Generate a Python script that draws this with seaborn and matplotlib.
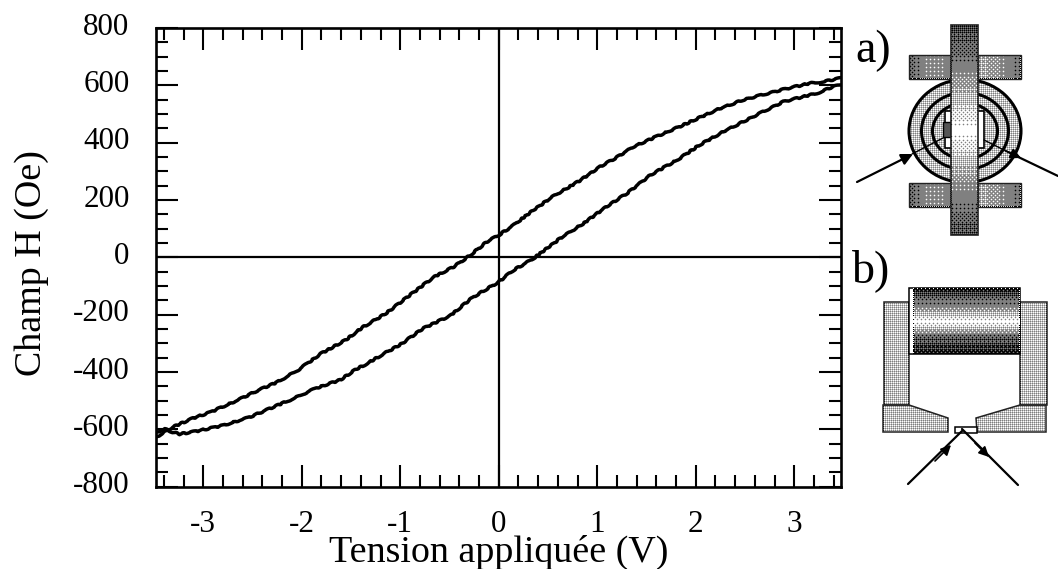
import numpy as np
import pandas as pd
import matplotlib
matplotlib.use("Agg")
import matplotlib.pyplot as plt
from matplotlib.patches import Rectangle, Ellipse, Polygon
from matplotlib.transforms import ScaledTranslation
import seaborn as sns

volts_up = [-3.48,-3.37,-3.3,-3.1,-2.93,-2.66,-2.46,-2.25,-2.03,-1.81,-1.56,-1.375,-1.15,-0.95,-0.66,-0.46,-0.29,-0.12,0.0,0.15,0.35,0.55,0.83,1.03,1.2,1.37,1.6,1.87,2.21,2.48,2.89,3.16,3.3,3.47]
field_up = [-628,-605,-591,-561,-541,-500,-467,-436,-392,-337,-290,-243,-197,-145,-69,-34,7,54,77,112,164,212,269,316,349,386,421,461,514,549,586,607,613,625]
volts_down = [-3.48,-3.39,-3.34,-3.24,-3.07,-2.8,-2.53,-2.29,-2.09,-1.85,-1.61,-1.44,-1.34,-1.17,-1.0,-0.77,-0.49,-0.26,0.0,0.15,0.35,0.62,0.86,1.08,1.31,1.54,1.81,2.04,2.28,2.62,2.89,3.23,3.4,3.48]
field_down = [-611,-599,-607,-617,-607,-587,-558,-523,-494,-456,-428,-389,-372,-337,-305,-249,-203,-139,-86,-45,-5,65,118,173,225,287,339,392,438,497,543,572,596,601]
x_ticks = [-3,-2,-1,0,1,2,3]
y_ticks = [-800,-600,-400,-200,0,200,400,600,800]

TEXT_FAMILY = "Liberation Serif"
sns.set_theme(style="ticks", rc={"font.family": TEXT_FAMILY, "axes.unicode_minus": False})
W, H = 1058, 569
fig = plt.figure(figsize=(W/100, H/100), dpi=100, facecolor="white")
ax = fig.add_axes([156/W, 1-486.5/H, (841-156)/W, (486.5-28)/H])

df = pd.concat([
    pd.DataFrame({"V": volts_up, "H": field_up, "b": "up"}),
    pd.DataFrame({"V": volts_down, "H": field_down, "b": "down"}),
])
sns.lineplot(data=df, x="V", y="H", units="b", estimator=None, sort=False, color="black", lw=2.5, ax=ax, legend=False, zorder=3)
for ln in ax.get_lines():
    ln.set_sketch_params(scale=0.7, length=14, randomness=4)
ax.axhline(0, color="black", lw=1.6)
ax.axvline(0, color="black", lw=1.6)
ax.set_xlim(-3.48, 3.475)
ax.set_ylim(-800, 800)
ax.set_xticks(x_ticks)
ax.set_xticks(np.arange(-3.4, 3.41, 0.2), minor=True)
ax.set_yticks(y_ticks)
ax.set_yticks(np.arange(-800, 801, 50), minor=True)
ax.tick_params(which="major", direction="in", length=16, width=1.5, top=True, right=True, labelsize=22.4, color="black", labelcolor="black")
ax.tick_params(which="minor", direction="in", length=8.6, width=1.5, top=True, right=True, color="black")
ax.tick_params(axis="x", which="major", pad=17)
ax.tick_params(axis="y", which="major", pad=19)
up = ScaledTranslation(0, 3/72, fig.dpi_scale_trans)
for lab in ax.get_yticklabels():
    lab.set_transform(lab.get_transform() + up)
for s in ax.spines.values():
    s.set_linewidth(1.9)
    s.set_color("black")
ax.set_xlabel("Tension appliquée (V)", fontsize=27.4, color="black", labelpad=-3.2)
ax.set_ylabel("Champ H (Oe)", fontsize=27.4, color="black", labelpad=17)
ax.yaxis.label.set_y(0.488)

# Schematic overlay in pixel coordinates
ov = fig.add_axes([0, 0, 1, 1], facecolor="none")
BAYER = np.array([[0, 8, 2, 10], [12, 4, 14, 6], [3, 11, 1, 9], [15, 7, 13, 5]]) / 16 + 1/32

def soften(img):
    out = img.copy()
    out[1:-1, 1:-1] = (4*img[1:-1, 1:-1] + img[:-2, 1:-1] + img[2:, 1:-1] + img[1:-1, :-2] + img[1:-1, 2:]) / 8
    return out

def stipple(x0, y0, x1, y1, vals, horizontal=False, z=2, clip=None):
    w, h = int(x1-x0), int(y1-y0)
    n = w if horizontal else h
    prof = np.interp(np.linspace(0, 1, n), np.linspace(0, 1, len(vals)), vals)
    g = np.tile(prof[None, :], (h, 1)) if horizontal else np.tile(prof[:, None], (1, w))
    rows, cols = np.indices((h, w))
    img = soften((g > BAYER[rows % 4, cols % 4]).astype(float))
    im = ov.imshow(img, extent=[x0, x1, y1, y0], cmap="gray", vmin=0, vmax=1, aspect="auto",
                   interpolation="nearest", zorder=z)
    if clip is not None:
        im.set_clip_path(clip)
    return im

ov.text(855, 62, "a)", fontsize=33, color="black", va="baseline")
ov.text(852, 282, "b)", fontsize=33, color="black", va="baseline")

# a) coil top view
cx, cy = 965, 131
for wd, ht in [(112, 103), (87, 77), (65, 56)]:
    e = Ellipse((cx, cy), wd, ht, fc="white", ec="none", zorder=1)
    ov.add_patch(e)
    stipple(cx-wd/2, cy-ht/2, cx+wd/2, cy+ht/2, [.72, .72], z=1.1, clip=e)
    ov.add_patch(Ellipse((cx, cy), wd, ht, fill=False, ec="black", lw=2.2, zorder=1.2))
ov.add_patch(Rectangle((945, 111), 39, 37, fc="white", ec="black", lw=1.2, zorder=1.3))
ov.add_patch(Rectangle((943, 122), 8, 15, fc="#555555", ec="black", lw=1, zorder=1.35))
for (bx0, by0, bx1, by1) in [(909, 55, 951, 79), (978, 55, 1021, 79), (909, 183, 951, 207), (978, 183, 1021, 207)]:
    prof = [.35, .6, .5] if bx0 < 950 else [.7, .6, .4]
    stipple(bx0, by0, bx1, by1, prof, horizontal=True, z=1.5)
    ov.add_patch(Rectangle((bx0, by0), bx1-bx0, by1-by0, fill=False, ec="#222222", lw=1, zorder=1.6))
stipple(951, 25, 978, 235, [.25, .38, .6, .78, 1, .78, .6, .42, .28], z=3)
ov.add_patch(Rectangle((951, 25), 27, 210, fill=False, ec="#222222", lw=1.2, zorder=3.1))
ov.plot([912, 943], [154, 138], color="black", lw=1, zorder=2)
ov.plot([984, 1014], [140, 155], color="black", lw=1, zorder=2)
ov.annotate("", xy=(913, 154), xytext=(857, 182), arrowprops=dict(arrowstyle="-|>", color="black", lw=1.6, mutation_scale=17, shrinkA=0, shrinkB=0), zorder=4)
ov.annotate("", xy=(1021, 158), xytext=(1006, 151), arrowprops=dict(arrowstyle="-|>", color="black", lw=1.4, mutation_scale=15, shrinkA=0, shrinkB=0), zorder=4)
ov.plot([1012, 1058], [154, 176], color="black", lw=1.6, zorder=4)

# b) magnet side view
arms = [[(884, 302), (909, 302), (909, 405), (884, 405)],
        [(1020, 302), (1047, 302), (1047, 405), (1020, 405)],
        [(883, 405), (909, 405), (948, 418), (948, 432), (883, 432)],
        [(976, 418), (1020, 405), (1046, 405), (1046, 432), (977, 432)]]
for pts in arms:
    p = Polygon(pts, fc="white", ec="none", zorder=1)
    ov.add_patch(p)
    xs, ys = zip(*pts)
    stipple(min(xs), min(ys), max(xs), max(ys), [.75, .75], z=1.1, clip=p)
    ov.add_patch(Polygon(pts, fill=False, ec="#222222", lw=1.1, zorder=1.2))
ov.add_patch(Rectangle((909, 288), 111, 66, fc="white", ec="black", lw=1.1, zorder=1.4))
stipple(913, 288, 1020, 354, [.1, .3, .42, .55, .72, .95, .72, .5, .3, .2, .1], z=1.5)
ov.add_patch(Rectangle((955, 427), 22, 6, fc="white", ec="black", lw=1.1, zorder=2))
ov.plot([908, 962], [484, 431], color="black", lw=1.6, zorder=4)
ov.plot([962, 1018], [429, 485], color="black", lw=1.6, zorder=4)
ov.annotate("", xy=(951, 445), xytext=(935, 461), arrowprops=dict(arrowstyle="-|>", color="black", lw=1.2, mutation_scale=15, shrinkA=0, shrinkB=0), zorder=4)
ov.annotate("", xy=(989, 457), xytext=(975, 443), arrowprops=dict(arrowstyle="-|>", color="black", lw=1.2, mutation_scale=15, shrinkA=0, shrinkB=0), zorder=4)
ov.set_xlim(0, W); ov.set_ylim(H, 0); ov.axis("off")

fig.savefig("out.png", dpi=100, facecolor="white")
